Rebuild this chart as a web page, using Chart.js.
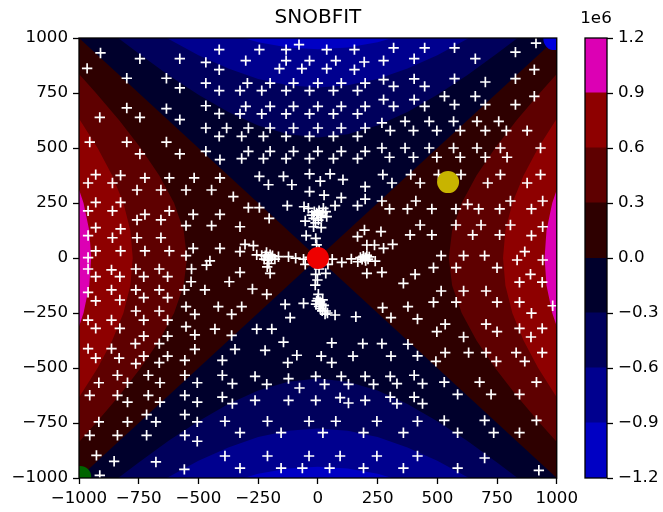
<!DOCTYPE html>
<html>
<head>
<meta charset="utf-8">
<script src="https://cdn.jsdelivr.net/npm/chart.js@4/dist/chart.umd.min.js"></script>
<style>
  html, body { margin: 0; padding: 0; background: #fff; }
  #wrap { position: relative; width: 663px; height: 512px; overflow: hidden; }
  #main { position: absolute; left: 0; top: 0; }
  #cbar { position: absolute; left: 560px; top: 0; }
</style>
</head>
<body>
<div id="wrap">
  <canvas id="main" width="583" height="512" style="width:583px;height:512px"></canvas>
  <canvas id="cbar" width="103" height="512" style="width:103px;height:512px"></canvas>
</div>
<script>
// ---- data ---------------------------------------------------------------
// Filled-contour levels of the objective (colour bar is in units of 1e6)
const levels = [-1.2e6, -0.9e6, -0.6e6, -0.3e6, 0, 0.3e6, 0.6e6, 0.9e6, 1.2e6];
const bandColors = ['#0000c4', '#00008f', '#00005c', '#00002c', '#2e0000', '#5e0000', '#8e0000', '#dc00b4'];

// Contour lines for |level| = 0.3e6, 0.6e6, 0.9e6: distance from the axis
// at each sample position along it (symmetric about the axis)
const contourSamples = [0, 125, 250, 375, 500, 625, 750, 875, 1000];
const contour03 = [548, 562, 602, 664, 742, 831, 929, 1032, 1140];
const contour06 = [775, 785, 814, 861, 922, 995, 1078, 1169, 1265];
const contour09 = [949, 957, 981, 1020, 1072, 1136, 1209, 1291, 1378];

// Points evaluated by SNOBFIT
const evaluatedPoints = [
  [-910,932],[-745,906],[-578,906],[-413,947],[-469,889],[-966,862],[-413,856],[-800,817],[-634,817],[-469,795],
  [-578,773],[-413,761],[-800,682],[-634,679],[-469,692],[-913,639],[-745,639],[-578,629],[-413,656],[-469,591],
  [-382,591],[-413,553],[-955,527],[-800,527],[-634,527],[-745,473],[-578,473],[-469,485],[-410,447],[-930,379],
  [-826,376],[-724,364],[-622,364],[-518,364],[-410,364],[-962,341],[-860,341],
  [-245,947],[-133,947],[-79,970],[37,947],[153,947],[317,955],[-302,897],[-133,897],[-35,897],[75,897],
  [194,891],[275,897],[-161,861],[-67,861],[37,861],[153,856],[275,811],[-295,795],[-200,795],[-102,795],
  [0,795],[98,795],[198,795],[317,780],[-326,761],[-235,761],[-133,761],[-35,761],[65,761],[166,761],
  [275,720],[-302,689],[-200,689],[-102,689],[0,689],[98,689],[198,689],[317,689],[-326,655],[-235,655],
  [-133,655],[-35,655],[65,655],[166,655],[268,614],[-291,591],[-200,591],[-102,591],[0,591],[98,591],
  [198,591],[303,579],[-319,553],[-228,553],[-133,553],[-35,553],[65,553],[166,553],[268,500],[-291,485],
  [-200,485],[-102,485],[0,485],[98,485],[198,485],[300,458],[-319,452],[-228,452],[-133,452],[-35,452],
  [65,452],[166,452],[-245,371],[-144,371],[-35,382],[51,382],[105,356],[10,349],[272,379],[-207,333],
  [-109,333],[310,341],
  [447,955],[403,906],[572,955],[659,906],[827,936],[913,977],[403,814],[447,780],[572,815],[701,800],
  [827,815],[906,856],[403,720],[447,689],[530,735],[572,697],[659,735],[701,697],[827,697],[906,735],
  [365,621],[400,579],[466,621],[498,579],[568,621],[596,579],[666,621],[701,579],[757,621],[789,579],
  [876,579],[365,500],[400,458],[466,500],[498,458],[568,500],[596,458],[666,500],[701,458],[764,500],
  [792,458],[932,500],[389,379],[428,341],[505,379],[599,379],[711,341],[764,379],[876,341],[932,379],
  [-757,309],[-657,309],[-552,309],[-445,309],[-354,279],[-930,253],[-826,253],[-962,214],[-860,214],[-724,198],
  [-622,214],[-757,173],[-657,173],[-522,198],[-410,198],[-552,147],[-445,147],[-930,138],[-826,132],[-962,102],
  [-860,92],[-757,92],[-657,92],[-724,32],[-622,32],[-522,44],[-410,44],[-552,11],[-930,32],[-826,32],
  [-962,2],[-452,-13],[-466,-32],[-529,-50],[-962,-50],[-864,-54],[-762,-50],[-664,-50],[-930,-85],[-829,-85],
  [-729,-85],[-629,-85],[-531,-108],[-371,-108],[-962,-156],[-864,-145],[-762,-145],[-664,-145],[-559,-145],[-473,-145],
  [-930,-195],[-829,-191],[-729,-180],[-629,-180],[-552,-221],[-417,-221],[-361,-256],[-762,-241],[-664,-241],[-515,-256],
  [-962,-282],[-864,-282],[-729,-282],[-629,-282],[-930,-320],[-829,-320],[-552,-312],[-431,-323],
  [-35,302],[26,286],[198,324],[-128,238],[-58,233],[33,211],[72,238],[98,274],[166,238],[198,268],
  [268,259],[300,223],[-291,229],[-245,229],[-204,180],[-326,142],[-53,168],[-18,142],[14,138],[-49,102],
  [-9,89],[195,127],[166,97],[264,120],[205,59],[237,59],[275,44],[313,62],[-305,62],[-270,56],
  [-165,6],[-123,6],[-93,-1],[-326,29],[-256,14],[-53,-29],[-9,-74],[33,-70],[42,-29],[100,-20],
  [140,-4],[167,-17],[240,-14],[205,-70],[268,-65],[-326,-65],[-200,-70],[-274,-141],[-214,-165],[-319,-221],
  [-137,-211],[-60,-206],[33,-241],[72,-259],[159,-267],[271,-226],[306,-271],[-116,-271],[-256,-323],[-193,-323],
  [-11,-123],[2,-165],
  [-2,199],[-15,210],[10,195],[5,215],[-25,195],[15,185],[-5,205],[20,205],[-40,226],[23,226],
  [-18,180],[37,188],[-10,160],[2,172],
  [-208,5],[-220,10],[-195,0],[-210,-10],[-225,-5],[-200,15],[-190,10],[-235,12],[-215,25],[-180,-5],
  [-205,-25],[-212,-40],
  [198,1],[190,8],[210,-5],[205,12],[185,-6],[215,5],[200,-12],[178,2],
  [9,-199],[0,-185],[15,-210],[5,-220],[-5,-195],[20,-190],[10,-230],[25,-215],[-8,-210],[18,-240],
  [30,-255],[40,-250],
  [-60,-5],[-35,3],[60,-5],[-5,60],[5,35],[-2,-100],[5,-50],
  [410,259],[375,223],[477,223],[578,223],[627,244],[673,223],[761,223],[806,259],[894,223],[941,259],
  [428,150],[578,150],[683,150],[806,150],[386,105],[477,105],[648,105],[761,105],[894,102],[941,142],
  [516,11],[610,11],[698,11],[866,29],[834,-9],[941,-9],[484,-44],[579,-44],[750,-44],[407,-74],
  [358,-115],[890,-74],[516,-150],[610,-150],[704,-150],[844,-110],[939,-110],[484,-201],[579,-201],[750,-201],
  [377,-221],[844,-201],[983,-217],[417,-277],[533,-301],[704,-301],[894,-251],[844,-320],[939,-320],[750,-335],
  [498,-335],
  [-729,-355],[-629,-355],[-515,-349],[-361,-352],[-764,-389],[-664,-389],[-962,-412],[-864,-412],[-515,-415],[-347,-415],
  [-930,-455],[-832,-455],[-729,-446],[-629,-446],[-762,-480],[-664,-476],[-557,-465],[-400,-465],[-839,-533],[-797,-567],
  [-710,-533],[-661,-567],[-557,-533],[-505,-567],[-400,-533],[-358,-571],[-917,-567],[-955,-624],[-839,-624],[-797,-655],
  [-710,-624],[-661,-655],[-557,-624],[-505,-655],[-400,-632],[-358,-662],[-717,-712],[-678,-745],[-917,-745],[-797,-745],
  [-557,-712],[-505,-745],[-389,-742],[-955,-806],[-839,-806],[-717,-806],[-557,-806],[-505,-833],[-927,-897],[-853,-924],
  [-678,-927],[-389,-900],[-559,-961],[-913,-988],
  [-144,-382],[58,-386],[188,-389],[268,-389],[-221,-420],[-88,-442],[-126,-476],[14,-446],[58,-476],[147,-446],
  [306,-446],[-263,-538],[-214,-574],[-123,-548],[-77,-591],[-9,-538],[28,-574],[98,-538],[128,-574],[198,-538],
  [233,-574],[303,-538],[331,-571],[-263,-647],[-123,-647],[-9,-647],[93,-635],[128,-659],[198,-647],[303,-632],
  [331,-662],[-211,-742],[-37,-742],[75,-742],[247,-742],[-326,-794],[-154,-794],[21,-794],[191,-794],[-211,-900],
  [-37,-900],[93,-900],[247,-900],[-326,-955],[-154,-955],[-65,-955],[49,-955],[191,-955],
  [610,-359],[892,-359],[377,-392],[417,-445],[533,-430],[494,-470],[631,-430],[704,-430],[747,-470],[830,-430],
  [866,-470],[939,-430],[403,-533],[438,-571],[529,-564],[677,-564],[915,-564],[585,-620],[725,-620],[844,-620],
  [403,-632],[438,-662],[417,-742],[529,-738],[698,-738],[915,-738],[358,-794],[585,-794],[736,-794],[844,-794],
  [417,-900],[698,-909],[358,-955],[585,-955],[925,-965]
];

// Highlighted points (best point, start points)
const highlightX = [0, 545, -995, 990];
const highlightY = [0, 345, -995, 995];
const highlightColors = ['#ee0000', '#c8b400', '#006400', '#0000dd'];

// ---- helpers ------------------------------------------------------------
const AXIS_LIM = 1000;
const FAR = 1600;
const FONT_FAMILY = "'DejaVu Sans', sans-serif";
const TICK_FONT = { family: FONT_FAMILY, size: 16.7 };
const minusSign = s => String(s).replace('-', '\u2212');

Chart.defaults.font.family = FONT_FAMILY;
Chart.defaults.color = '#000';

// Region beyond one contour line, on one side of the saddle.
// axis 'x': the band opens along ±x; axis 'y': along ±y.
function bandShape(dist, axis, sign) {
  const s = contourSamples.slice(1).reverse().map(v => -v).concat(contourSamples);
  const d = dist.slice(1).reverse().concat(dist);
  const pts = s.map((u, i) => axis === 'x' ? { x: sign * d[i], y: u } : { x: u, y: sign * d[i] });
  if (axis === 'x') pts.push({ x: sign * FAR, y: FAR }, { x: sign * FAR, y: -FAR });
  else pts.push({ x: FAR, y: sign * FAR }, { x: -FAR, y: sign * FAR });
  return pts;
}
function wedgeShape(sign) {
  return [{ x: 0, y: 0 }, { x: sign * FAR, y: FAR }, { x: sign * FAR, y: -FAR }];
}
function fillDataset(points, color, order) {
  return {
    type: 'line', data: points, fill: 'shape', backgroundColor: color,
    borderWidth: 0, pointRadius: 0, pointHoverRadius: 0, tension: 0,
    showLine: true, order: order, clip: 0
  };
}

const contourSets = [contour03, contour06, contour09];
const fills = [];
// lowest layer: the band just below zero fills the whole domain
fills.push(fillDataset([{ x: -FAR, y: -FAR }, { x: FAR, y: -FAR }, { x: FAR, y: FAR }, { x: -FAR, y: FAR }], bandColors[3], 100));
// positive wedges left and right of the zero contour
fills.push(fillDataset(wedgeShape(1), bandColors[4], 90));
fills.push(fillDataset(wedgeShape(-1), bandColors[4], 90));
contourSets.forEach((dist, k) => {
  const ord = 80 - k * 10;
  fills.push(fillDataset(bandShape(dist, 'x', 1), bandColors[5 + k], ord));
  fills.push(fillDataset(bandShape(dist, 'x', -1), bandColors[5 + k], ord));
  fills.push(fillDataset(bandShape(dist, 'y', 1), bandColors[2 - k], ord));
  fills.push(fillDataset(bandShape(dist, 'y', -1), bandColors[2 - k], ord));
});

const pointsSet = {
  type: 'scatter',
  data: evaluatedPoints.map(p => ({ x: p[0], y: p[1] })),
  pointStyle: 'cross', radius: 5.2, hoverRadius: 5.2,
  borderColor: '#ffffff', backgroundColor: '#ffffff', borderWidth: 1.7,
  showLine: false, order: 1, clip: 0
};
const highlightSets = highlightX.map((x, i) => ({
  type: 'scatter',
  data: [{ x: x, y: highlightY[i] }],
  pointStyle: 'circle', radius: 11, hoverRadius: 11,
  backgroundColor: highlightColors[i], borderWidth: 0,
  showLine: false, order: 0, clip: 0
}));

// axes frame (all four spines)
const framePlugin = {
  id: 'frame',
  afterDatasetsDraw(chart) {
    const a = chart.chartArea, ctx = chart.ctx;
    ctx.save();
    ctx.strokeStyle = '#000';
    ctx.lineWidth = 1.3;
    ctx.strokeRect(a.left, a.top, a.right - a.left, a.bottom - a.top);
    ctx.restore();
  }
};

// scale multiplier shown above the colour bar
const offsetTextPlugin = {
  id: 'offsetText',
  afterDraw(chart, args, opts) {
    const a = chart.chartArea, ctx = chart.ctx;
    ctx.save();
    ctx.fillStyle = '#000';
    ctx.font = '16.7px ' + FONT_FAMILY;
    ctx.textAlign = 'center';
    ctx.textBaseline = 'middle';
    ctx.fillText(opts.text, (a.left + a.right) / 2, 19);
    ctx.restore();
  }
};

function axisOpts(extra) {
  return Object.assign({
    type: 'linear', min: -AXIS_LIM, max: AXIS_LIM,
    ticks: { stepSize: 250, autoSkip: false, maxRotation: 0, minRotation: 0,
             font: TICK_FONT, color: '#000', padding: 5, callback: v => minusSign(v) },
    grid: { drawOnChartArea: false, drawTicks: true, tickLength: 6, tickColor: '#000', tickWidth: 1.3 },
    border: { display: false }
  }, extra);
}

new Chart(document.getElementById('main'), {
  type: 'scatter',
  data: { datasets: [...highlightSets, pointsSet, ...fills] },
  options: {
    responsive: false, animation: false, events: [],
    layout: { padding: { left: 0, right: 0, top: 0, bottom: 0 } },
    plugins: {
      legend: { display: false }, tooltip: { enabled: false },
      title: { display: true, text: 'SNOBFIT', fullSize: false, color: '#000',
               font: { family: FONT_FAMILY, size: 20, weight: 'normal' },
               padding: { top: 6, bottom: 8 } }
    },
    scales: {
      x: axisOpts({ afterFit(s) { s.height = 34; } }),
      y: axisOpts({ afterFit(s) { s.width = 79; } })
    }
  },
  plugins: [framePlugin]
});

// ---- colour bar ---------------------------------------------------------
new Chart(document.getElementById('cbar'), {
  type: 'bar',
  data: {
    labels: [''],
    datasets: bandColors.map((c, i) => ({
      data: [[levels[i], levels[i + 1]]], backgroundColor: c, borderWidth: 0,
      inflateAmount: 0.6, grouped: false, barPercentage: 1, categoryPercentage: 1
    }))
  },
  options: {
    responsive: false, animation: false, events: [],
    layout: { padding: { left: 25, right: 0, top: 38, bottom: 34 } },
    plugins: {
      legend: { display: false }, tooltip: { enabled: false },
      offsetText: { text: '1e6' }
    },
    scales: {
      x: { display: false },
      y: {
        position: 'right', min: levels[0], max: levels[levels.length - 1],
        ticks: { stepSize: 3e5, autoSkip: false, font: TICK_FONT, color: '#000', padding: 5,
                 callback: v => minusSign((v / 1e6).toFixed(1)) },
        grid: { drawOnChartArea: false, drawTicks: true, tickLength: 6, tickColor: '#000', tickWidth: 1.3 },
        border: { display: false },
        afterFit(s) { s.width = 56; }
      }
    }
  },
  plugins: [framePlugin, offsetTextPlugin]
});
</script>
</body>
</html>
